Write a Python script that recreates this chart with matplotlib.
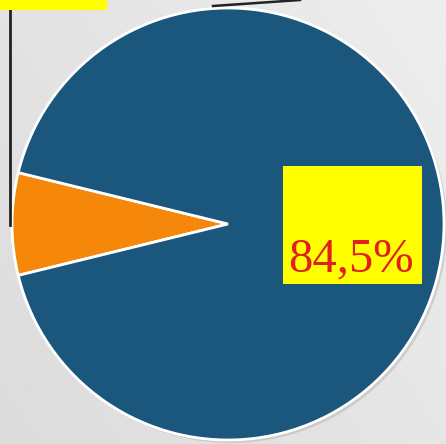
import numpy as np
import matplotlib.pyplot as plt
from matplotlib.patches import Rectangle

shares = [7.0, 84.5]
colors = ["#F5870A", "#1B577C"]
blue_label = "84,5%"

W, H = 446, 444
fig = plt.figure(figsize=(W / 100, H / 100), dpi=100)
ax = fig.add_axes([0, 0, 1, 1])

# light grey gradient background
gx = np.linspace(0, 1, 200)
gy = np.linspace(0, 1, 200)
gxx, gyy = np.meshgrid(gx, gy)
grad = 0.86 + 0.07 * (0.6 * gxx + 0.4 * gyy)
ax.imshow(grad, cmap="gray", vmin=0, vmax=1, extent=(0, W, 0, H),
          origin="lower", zorder=0)

cx, cy, r = 228, H - 224, 216
orange_deg = 360 * shares[0] / sum(shares)

# soft shadow
ax.pie([1], colors=["#b8b4b0"], radius=r, center=(cx + 3, cy - 3),
       wedgeprops=dict(linewidth=0, alpha=0.5), frame=True)
ax.pie(shares, colors=colors, radius=r, center=(cx, cy),
       startangle=180 - orange_deg / 2, counterclock=True,
       wedgeprops=dict(edgecolor="white", linewidth=2), frame=True)

# label box for blue slice
ax.add_patch(Rectangle((283, H - 284), 139, 118, facecolor="#FFFF00",
                       edgecolor="none", zorder=5))
ax.text(351, H - 271, blue_label, color="#E0201B", fontsize=35,
        family="Liberation Serif", ha="center", va="baseline", zorder=6)

# cropped label box + leader lines of the other labels
ax.add_patch(Rectangle((0, H - 10), 107, 12, facecolor="#FFFF00",
                       edgecolor="none", zorder=5))
ax.plot([10, 10], [H - 10, H - 225], color="#222222", lw=2, zorder=4)
ax.plot([213, 300], [H - 6, H], color="#222222", lw=1.8, zorder=4)

ax.set_xlim(0, W)
ax.set_ylim(0, H)
ax.set_aspect("auto")
ax.axis("off")

fig.savefig("out.png", dpi=100)
